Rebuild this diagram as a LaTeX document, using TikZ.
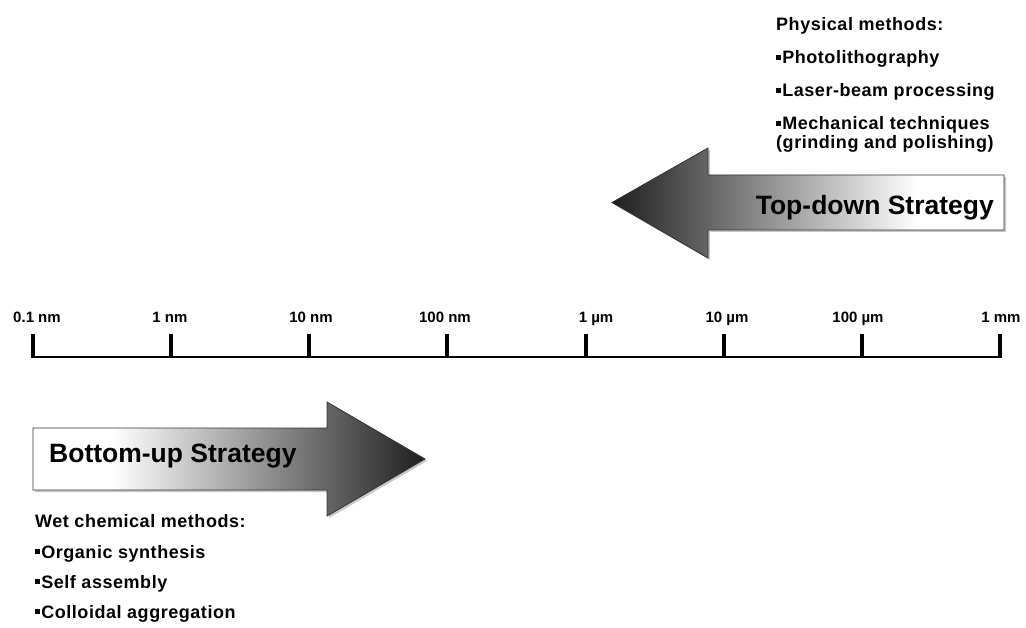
\documentclass[tikz,border=0pt]{standalone}
\usepackage{fontspec}
\setmainfont{Liberation Sans}
\pgfdeclarehorizontalshading{tdshade}{100bp}{color(0bp)=(black!88); color(25bp)=(black!88); color(64bp)=(white); color(100bp)=(white)}
\pgfdeclarehorizontalshading{bushade}{100bp}{color(0bp)=(white); color(35bp)=(white); color(75bp)=(black!88); color(100bp)=(black!88)}
\newcommand\bl{\rule[0.2em]{0.28em}{0.28em}\hspace{0.06em}}
\tikzset{
  lbl/.style={anchor=base, inner sep=0pt, font=\fontsize{15}{15}\selectfont\bfseries},
  txt/.style={anchor=base west, inner sep=0pt, font=\fontsize{18}{18}\selectfont\bfseries\addfontfeatures{LetterSpace=3}},
  big/.style={inner sep=0pt, font=\fontsize{26.5}{26.5}\selectfont\bfseries},
  arrowshape/.style={draw=black!80, line width=0.8pt, line join=miter},
  shadowshape/.style={fill=black!22, draw=none},
}
\begin{document}
\begin{tikzpicture}[x=1pt,y=-1pt]
\useasboundingbox (0,0) rectangle (1026,628);
% top-down arrow
\fill[shadowshape, shift={(2,2)}] (612,202.5) -- (708,148) -- (708,175) -- (1004,175) -- (1004,230) -- (708,230) -- (708,258) -- cycle;
\path[arrowshape, shading=tdshade] (612,202.5) -- (708,148) -- (708,175) -- (1004,175) -- (1004,230) -- (708,230) -- (708,258) -- cycle;
\node[big, anchor=base east] (td) at (994,215) {Top-down Strategy};
% bottom-up arrow
\fill[shadowshape, shift={(2,2)}] (33,428) -- (327,428) -- (327,402) -- (425,459) -- (327,516) -- (327,490) -- (33,490) -- cycle;
\path[arrowshape, shading=bushade] (33,428) -- (327,428) -- (327,402) -- (425,459) -- (327,516) -- (327,490) -- (33,490) -- cycle;
\node[big, anchor=base west] (bu) at (49,462) {Bottom-up Strategy};
% scale
\draw[line width=2.5pt] (33,357) -- (1001,357);
\foreach \i in {0,...,7} {
  \draw[line width=4pt] ({33+138.14*\i},334) -- ({33+138.14*\i},358);
}
\node[lbl] (l0) at (37,323) {0.1 nm};
\node[lbl] (l1) at (170,323) {1 nm};
\node[lbl] (l2) at (311,323) {10 nm};
\node[lbl] (l3) at (445,323) {100 nm};
\node[lbl] (l4) at (596,323) {1 µm};
\node[lbl] (l5) at (727,323) {10 µm};
\node[lbl] (l6) at (858,323) {100 µm};
\node[lbl] (l7) at (1001,323) {1 mm};
% top text
\node[txt] (p0) at (776,30.5) {Physical methods:};
\node[txt] (p1) at (776,64) {\bl Photolithography};
\node[txt] (p2) at (776,97) {\bl Laser-beam processing};
\node[txt] (p3) at (776,130) {\bl Mechanical techniques};
\node[txt] (p4) at (776,149) {(grinding and polishing)};
% bottom text
\node[txt] (w0) at (35,527) {Wet chemical methods:};
\node[txt] (w1) at (35,558) {\bl Organic synthesis};
\node[txt] (w2) at (35,588) {\bl Self assembly};
\node[txt] (w3) at (35,618) {\bl Colloidal aggregation};
\end{tikzpicture}
\end{document}
